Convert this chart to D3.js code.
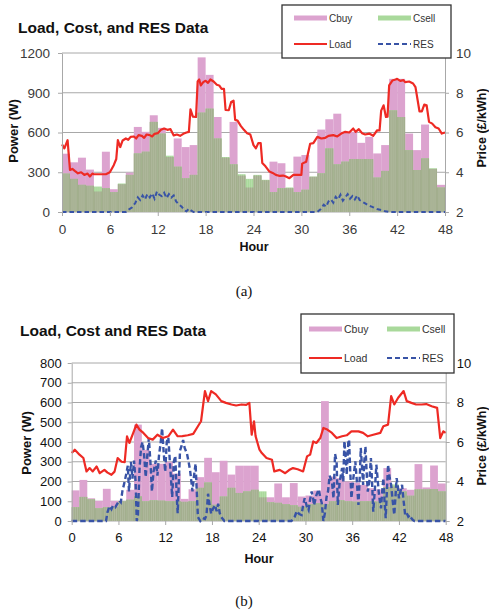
<!DOCTYPE html>
<html>
<head>
<meta charset="utf-8">
<script src="https://cdn.jsdelivr.net/npm/d3@7/dist/d3.min.js"></script>
<style>
body { margin: 0; background: #fff; }
svg text { font-family: "Liberation Sans", Arial, Helvetica, sans-serif; }
</style>
</head>
<body>
<div id="chart-area"></div>
<script>
var width = 489;
var height = 614;

var hourTicks = [0, 6, 12, 18, 24, 30, 36, 42, 48];
var priceTicks = [2, 4, 6, 8, 10];
var legendNames = ["Cbuy", "Csell", "Load", "RES"];

// ---- chart (a) ----
var powerTicksA = [0, 300, 600, 900, 1200];
var cbuyA = [440, 375, 410, 320, 155, 455, 172, 210, 297, 642, 605, 730, 635, 415, 555, 490, 505, 1167, 1035, 717, 410, 680, 275, 185,
	275, 240, 380, 368, 180, 418, 430, 265, 622, 700, 742, 605, 605, 522, 567, 442, 505, 1005, 1005, 592, 467, 660, 325, 205];
var csellA = [290, 250, 205, 198, 192, 180, 150, 215, 280, 442, 455, 680, 592, 425, 342, 255, 280, 750, 780, 555, 415, 360, 285, 250,
	280, 243, 150, 180, 185, 150, 168, 268, 292, 480, 360, 380, 400, 400, 400, 260, 310, 767, 717, 467, 317, 405, 330, 185];
var loadA = [[0,510],[0.3,480],[0.7,542],[1,318],[1.3,325],[1.6,310],[2,292],[2.4,300],[2.8,280],[3.2,290],[3.5,268],[3.8,290],[4,285],[4.5,285],[5,285],[5.5,285],[6,300],[6.5,355],[6.8,400],[7,542],[7.3,490],[7.6,540],[8,555],[8.3,545],[8.6,567],[9,570],[9.3,555],[9.6,580],[10,575],[10.3,560],[10.6,585],[11,580],[11.3,570],[11.6,590],[12,595],[12.4,620],[12.8,630],[13.2,620],[13.6,625],[14,578],[14.4,585],[14.8,575],[15.2,590],[15.6,600],[15.9,605],[16.1,775],[16.4,720],[16.8,717],[17,985],[17.2,1000],[17.4,955],[17.7,980],[18,990],[18.3,975],[18.6,1000],[19,985],[19.4,960],[19.7,955],[20,930],[20.3,930],[20.5,770],[20.9,768],[21.2,830],[21.5,840],[21.7,695],[22,690],[22.4,650],[22.8,620],[23.2,595],[23.6,585],[24,505],[24.3,480],[24.6,520],[24.9,520],[25.1,370],[25.5,345],[26,305],[26.4,295],[26.8,280],[27.3,272],[27.7,275],[28,270],[28.5,255],[29,280],[29.5,280],[30,280],[30.1,365],[30.6,380],[31.1,515],[31.5,520],[32,567],[32.5,555],[33,560],[33.4,575],[34,580],[34.5,570],[35,592],[35.5,605],[36,600],[36.5,630],[36.8,605],[37.2,625],[37.6,595],[38,585],[38.5,592],[39,575],[39.5,617],[39.8,615],[40,765],[40.3,805],[40.6,717],[40.8,720],[41,955],[41.4,992],[41.8,1000],[42,1005],[42.4,990],[42.8,995],[43,980],[43.5,985],[44,970],[44.3,942],[44.8,760],[45.1,760],[45.4,810],[45.7,805],[46,680],[46.4,667],[46.8,640],[47.2,630],[47.6,592],[48,600]];
var resA = [[0,0],[8,0],[8.4,20],[8.8,35],[9.2,70],[9.5,110],[9.8,90],[10.1,125],[10.4,95],[10.7,135],[11,110],[11.3,140],[11.6,100],[11.9,155],[12.2,130],[12.5,120],[12.8,145],[13.1,105],[13.4,135],[13.7,110],[14,125],[14.3,80],[14.6,60],[15,40],[15.3,15],[15.6,5],[15.9,25],[16.2,10],[16.5,0],[32,0],[32.4,20],[32.8,55],[33.1,40],[33.4,80],[33.7,95],[34,70],[34.3,115],[34.6,95],[34.9,130],[35.2,85],[35.5,110],[35.8,135],[36.1,100],[36.4,120],[36.7,95],[37,125],[37.3,90],[37.7,75],[38,65],[38.4,50],[38.8,40],[39.2,30],[39.6,20],[40,15],[40.5,5],[41,0],[48,0]];

// ---- chart (b) ----
var powerTicksB = [0, 100, 200, 300, 400, 500, 600, 700, 800];
var cbuyB = [155, 208, 115, 102, 163, 102, 102, 158, 488, 360, 290, 290, 300, 240, 112, 161, 222, 320, 247, 305, 235, 280, 280, 280,
	120, 120, 190, 120, 192, 124, 129, 154, 607, 225, 217, 200, 195, 183, 166, 160, 268, 175, 166, 158, 288, 170, 281, 190];
var csellB = [70, 122, 110, 65, 70, 72, 100, 108, 125, 100, 105, 103, 100, 100, 97, 100, 168, 195, 82, 124, 168, 142, 150, 158,
	150, 95, 92, 85, 80, 72, 85, 90, 85, 100, 105, 100, 98, 100, 100, 98, 172, 185, 150, 128, 160, 160, 162, 150];
var loadB = [[0,344],[0.4,361],[1,336],[1.5,319],[1.9,251],[2.3,268],[2.7,251],[3.2,276],[3.6,242],[4.2,259],[4.6,245],[5.1,234],[5.5,250],[5.9,319],[6.4,300],[6.8,298],[7.1,429],[7.4,395],[7.9,446],[8.3,488],[8.7,463],[9.2,446],[9.8,420],[10.4,412],[11,437],[11.7,420],[12.4,429],[13,463],[13.6,429],[14.2,430],[14.9,434],[15.6,441],[16.2,480],[16.6,505],[17.1,658],[17.5,607],[17.9,658],[18.5,641],[19.2,607],[19.8,598],[20.5,590],[21.1,585],[21.8,590],[22.4,588],[22.8,598],[23.1,437],[23.4,505],[23.6,430],[24.1,361],[24.4,344],[25,319],[25.7,310],[26,251],[26.7,259],[27.4,242],[27.9,258],[28.4,268],[29,262],[29.7,251],[30.2,327],[30.6,336],[31,403],[31.4,395],[31.9,420],[32.3,471],[32.8,463],[33.4,446],[34,420],[34.7,429],[35.3,434],[35.9,454],[36.8,454],[37.4,446],[38,429],[38.7,437],[39.6,446],[40,480],[40.6,488],[41,632],[41.4,590],[41.9,624],[42.6,658],[43,607],[43.6,598],[44.2,590],[44.9,590],[45.5,592],[46.2,581],[46.9,573],[47.3,420],[47.7,454],[48,446]];
var resB = [[0,0],[4.4,0],[4.6,45],[4.85,75],[5.1,60],[5.3,78],[5.6,70],[5.9,90],[6.1,104],[6.3,95],[6.5,150],[6.8,200],[7,238],[7.2,280],[7.35,150],[7.6,300],[7.8,215],[8,306],[8.2,200],[8.35,0],[8.5,30],[8.7,260],[8.9,373],[9.1,400],[9.3,330],[9.5,222],[9.7,330],[9.9,420],[10.1,300],[10.3,150],[10.5,250],[10.8,306],[11,230],[11.2,330],[11.4,390],[11.6,470],[11.8,350],[12,250],[12.2,400],[12.4,423],[12.6,300],[12.9,121],[13.1,300],[13.3,330],[13.45,150],[13.6,40],[13.8,250],[13.9,356],[14.1,380],[14.3,410],[14.5,370],[14.8,340],[15,300],[15.2,255],[15.5,150],[15.7,230],[15.9,290],[16.05,150],[16.2,20],[16.5,0],[16.8,15],[17.1,10],[17.3,30],[17.5,138],[17.7,80],[17.9,37],[18.1,60],[18.4,80],[18.6,50],[18.8,87],[19,40],[19.2,20],[19.6,0],[28.2,0],[28.6,20],[28.9,50],[29.2,35],[29.5,30],[29.7,80],[29.9,115],[30.2,70],[30.4,55],[30.6,110],[30.8,150],[31,110],[31.1,80],[31.4,130],[31.7,160],[31.9,120],[32.1,90],[32.3,0],[32.5,40],[32.7,120],[32.9,150],[33.1,230],[33.4,200],[33.6,115],[33.8,340],[34,300],[34.15,81],[34.4,200],[34.7,268],[34.85,200],[35,405],[35.2,300],[35.3,234],[35.5,400],[35.6,412],[35.75,250],[35.9,115],[36.1,200],[36.4,302],[36.6,200],[36.8,81],[37,250],[37.1,370],[37.3,250],[37.4,183],[37.55,300],[37.7,378],[37.85,250],[38,149],[38.2,200],[38.4,319],[38.55,200],[38.7,47],[38.9,150],[39.1,285],[39.25,220],[39.4,149],[39.55,100],[39.7,64],[39.85,150],[40,217],[40.15,100],[40.3,14],[40.45,150],[40.6,285],[40.8,220],[41,183],[41.2,100],[41.4,31],[41.55,120],[41.7,217],[41.85,180],[42,115],[42.2,150],[42.4,183],[42.6,100],[42.8,31],[43,40],[43.2,22],[43.4,30],[43.6,14],[43.8,5],[44,0],[48,0]];

var pink = "#dca3cf";
var lightGreen = "#a9d99b";
var olive = "#a3ae8e";
var red = "#ee2a24";
var blue = "#3853a6";

var svg = d3.select("#chart-area")
	.append("svg")
	.attr("width", width)
	.attr("height", height);

function drawChart(c) {
	var g = svg.append("g");
	var x = d3.scaleLinear().domain([0, 48]).range([c.left, c.right]);
	var yL = d3.scaleLinear().domain([0, c.leftMax]).range([c.bottom, c.top]);
	var yR = d3.scaleLinear().domain([2, 10]).range([c.bottom, c.top]);
	var hours = d3.range(48);

	// gridlines
	g.append("g").selectAll("line")
		.data(c.leftTicks)
		.join("line")
		.attr("x1", c.left).attr("x2", c.right)
		.attr("y1", (d) => yL(d)).attr("y2", (d) => yL(d))
		.attr("stroke", "#a8a8a8").attr("stroke-width", 1);

	// bars: Cbuy, then Csell, overlap shown olive
	g.append("g").selectAll("rect")
		.data(hours)
		.join("rect")
		.attr("x", (h) => x(h)).attr("width", (h) => x(h + 1) - x(h))
		.attr("y", (h) => yL(c.cbuy[h])).attr("height", (h) => yL(0) - yL(c.cbuy[h]))
		.attr("fill", pink);

	g.append("g").selectAll("rect")
		.data(hours)
		.join("rect")
		.attr("x", (h) => x(h)).attr("width", (h) => x(h + 1) - x(h))
		.attr("y", (h) => yL(c.csell[h])).attr("height", (h) => yL(0) - yL(c.csell[h]))
		.attr("fill", lightGreen);

	g.append("g").selectAll("rect")
		.data(hours)
		.join("rect")
		.attr("x", (h) => x(h)).attr("width", (h) => x(h + 1) - x(h))
		.attr("y", (h) => yL(Math.min(c.cbuy[h], c.csell[h])))
		.attr("height", (h) => yL(0) - yL(Math.min(c.cbuy[h], c.csell[h])))
		.attr("fill", olive);

	// fine stripes inside the green bars
	var quarters = d3.range(0, 48, 0.25).filter((q) => q % 1 != 0);
	g.append("g").selectAll("line")
		.data(quarters)
		.join("line")
		.attr("x1", (q) => x(q)).attr("x2", (q) => x(q))
		.attr("y1", yL(0))
		.attr("y2", (q) => yL(c.csell[Math.floor(q)]))
		.attr("stroke", "#ffffff").attr("stroke-opacity", 0.22).attr("stroke-width", 0.7);

	var line = d3.line()
		.x((d) => x(d[0]))
		.y((d) => yL(d[1]));

	g.append("path")
		.datum(c.res)
		.attr("d", line)
		.attr("fill", "none")
		.attr("stroke", blue)
		.attr("stroke-width", c.resWidth)
		.attr("stroke-dasharray", c.resDash);

	g.append("path")
		.datum(c.load)
		.attr("d", line)
		.attr("fill", "none")
		.attr("stroke", red)
		.attr("stroke-width", 2.2)
		.attr("stroke-linejoin", "round");

	// axes
	var leftAxis = g.append("g")
		.attr("transform", "translate(" + c.left + ",0)")
		.call(d3.axisLeft(yL).tickValues(c.leftTicks).tickFormat(d3.format("d"))
			.tickSize(4).tickSizeOuter(0).tickPadding(c.leftPad));
	var bottomAxis = g.append("g")
		.attr("transform", "translate(0," + c.bottom + ")")
		.call(d3.axisBottom(x).tickValues(hourTicks).tickSize(4).tickSizeOuter(0).tickPadding(8));
	var rightAxis = g.append("g")
		.attr("transform", "translate(" + c.right + ",0)")
		.call(d3.axisRight(yR).tickValues(priceTicks).tickSize(4).tickSizeOuter(0).tickPadding(7));

	[leftAxis, bottomAxis, rightAxis].forEach((a) => {
		a.select(".domain").attr("stroke", "#a8a8a8");
		a.selectAll(".tick line").attr("stroke", "#a8a8a8");
		a.selectAll(".tick text")
			.attr("font-size", c.tickFont)
			.attr("fill", c.tickColor)
			.style("font-family", "'Liberation Sans', Arial, sans-serif");
	});
	bottomAxis.select(".domain").attr("stroke", "none");

	// titles
	g.append("text")
		.attr("x", c.titleX).attr("y", c.titleY)
		.attr("font-size", "15.5px").attr("font-weight", "bold")
		.attr("fill", "#111")
		.text(c.title);

	g.append("text")
		.attr("transform", "translate(" + c.powerX + "," + c.powerY + ") rotate(-90)")
		.attr("text-anchor", "middle")
		.attr("font-size", "13px").attr("font-weight", "bold").attr("fill", "#111")
		.text("Power (W)");

	g.append("text")
		.attr("transform", "translate(" + c.priceX + "," + c.priceY + ") rotate(-90)")
		.attr("text-anchor", "middle")
		.attr("font-size", "12.5px").attr("font-weight", "bold").attr("fill", "#111")
		.text("Price (£/kWh)");

	g.append("text")
		.attr("x", c.hourX).attr("y", c.hourY)
		.attr("text-anchor", "middle")
		.attr("font-size", "12.5px").attr("font-weight", "bold").attr("fill", "#111")
		.text("Hour");

	g.append("text")
		.attr("x", 244).attr("y", c.captionY)
		.attr("text-anchor", "middle")
		.attr("font-size", "15px").attr("fill", "#111")
		.style("font-family", "'Liberation Serif', 'Times New Roman', serif")
		.text(c.caption);

	// legend
	var L = c.legend;
	var lg = g.append("g");
	lg.append("rect")
		.attr("x", L.x).attr("y", L.y).attr("width", L.w).attr("height", L.h)
		.attr("fill", "#fff").attr("stroke", "#333").attr("stroke-width", 1.3);

	legendNames.forEach((name, i) => {
		var col = i % 2;
		var row = Math.floor(i / 2);
		var sx = L.cols[col];
		var sy = L.rows[row];
		if (name == "Cbuy" || name == "Csell") {
			lg.append("rect")
				.attr("x", sx).attr("y", sy - 2.5)
				.attr("width", 33).attr("height", 5)
				.attr("fill", name == "Cbuy" ? pink : lightGreen);
		} else {
			lg.append("line")
				.attr("x1", sx).attr("x2", sx + 33)
				.attr("y1", sy).attr("y2", sy)
				.attr("stroke", name == "Load" ? red : blue)
				.attr("stroke-width", name == "Load" ? 2.2 : 2)
				.attr("stroke-dasharray", name == "Load" ? null : "5,3");
		}
		lg.append("text")
			.attr("x", sx + 35).attr("y", sy + 3.8)
			.attr("font-size", L.font).attr("fill", "#333")
			.text(name);
	});
}

drawChart({
	left: 62, right: 445, top: 53, bottom: 212,
	leftMax: 1200, leftTicks: powerTicksA, leftPad: 8,
	cbuy: cbuyA, csell: csellA, load: loadA, res: resA,
	resWidth: 2, resDash: "4.5,3",
	tickColor: "#3a3a3a", tickFont: "13.5px",
	title: "Load, Cost, and RES Data", titleX: 18, titleY: 33,
	powerX: 18, powerY: 131,
	priceX: 486, priceY: 128,
	hourX: 254, hourY: 251,
	caption: "(a)", captionY: 296,
	legend: {x: 282, y: 5, w: 169, h: 53, cols: [294, 378], rows: [18, 44], font: "10px"}
});

drawChart({
	left: 71.7, right: 445.7, top: 363, bottom: 521,
	leftMax: 800, leftTicks: powerTicksB, leftPad: 6,
	cbuy: cbuyB, csell: csellB, load: loadB, res: resB,
	resWidth: 2.4, resDash: "5.5,3",
	tickColor: "#111", tickFont: "13px",
	title: "Load, Cost and RES Data", titleX: 20, titleY: 336,
	powerX: 31, powerY: 443,
	priceX: 486, priceY: 446,
	hourX: 259, hourY: 563,
	caption: "(b)", captionY: 606,
	legend: {x: 301, y: 314, w: 153, h: 59, cols: [309, 387], rows: [329, 358], font: "10.5px"}
});
</script>
</body>
</html>
